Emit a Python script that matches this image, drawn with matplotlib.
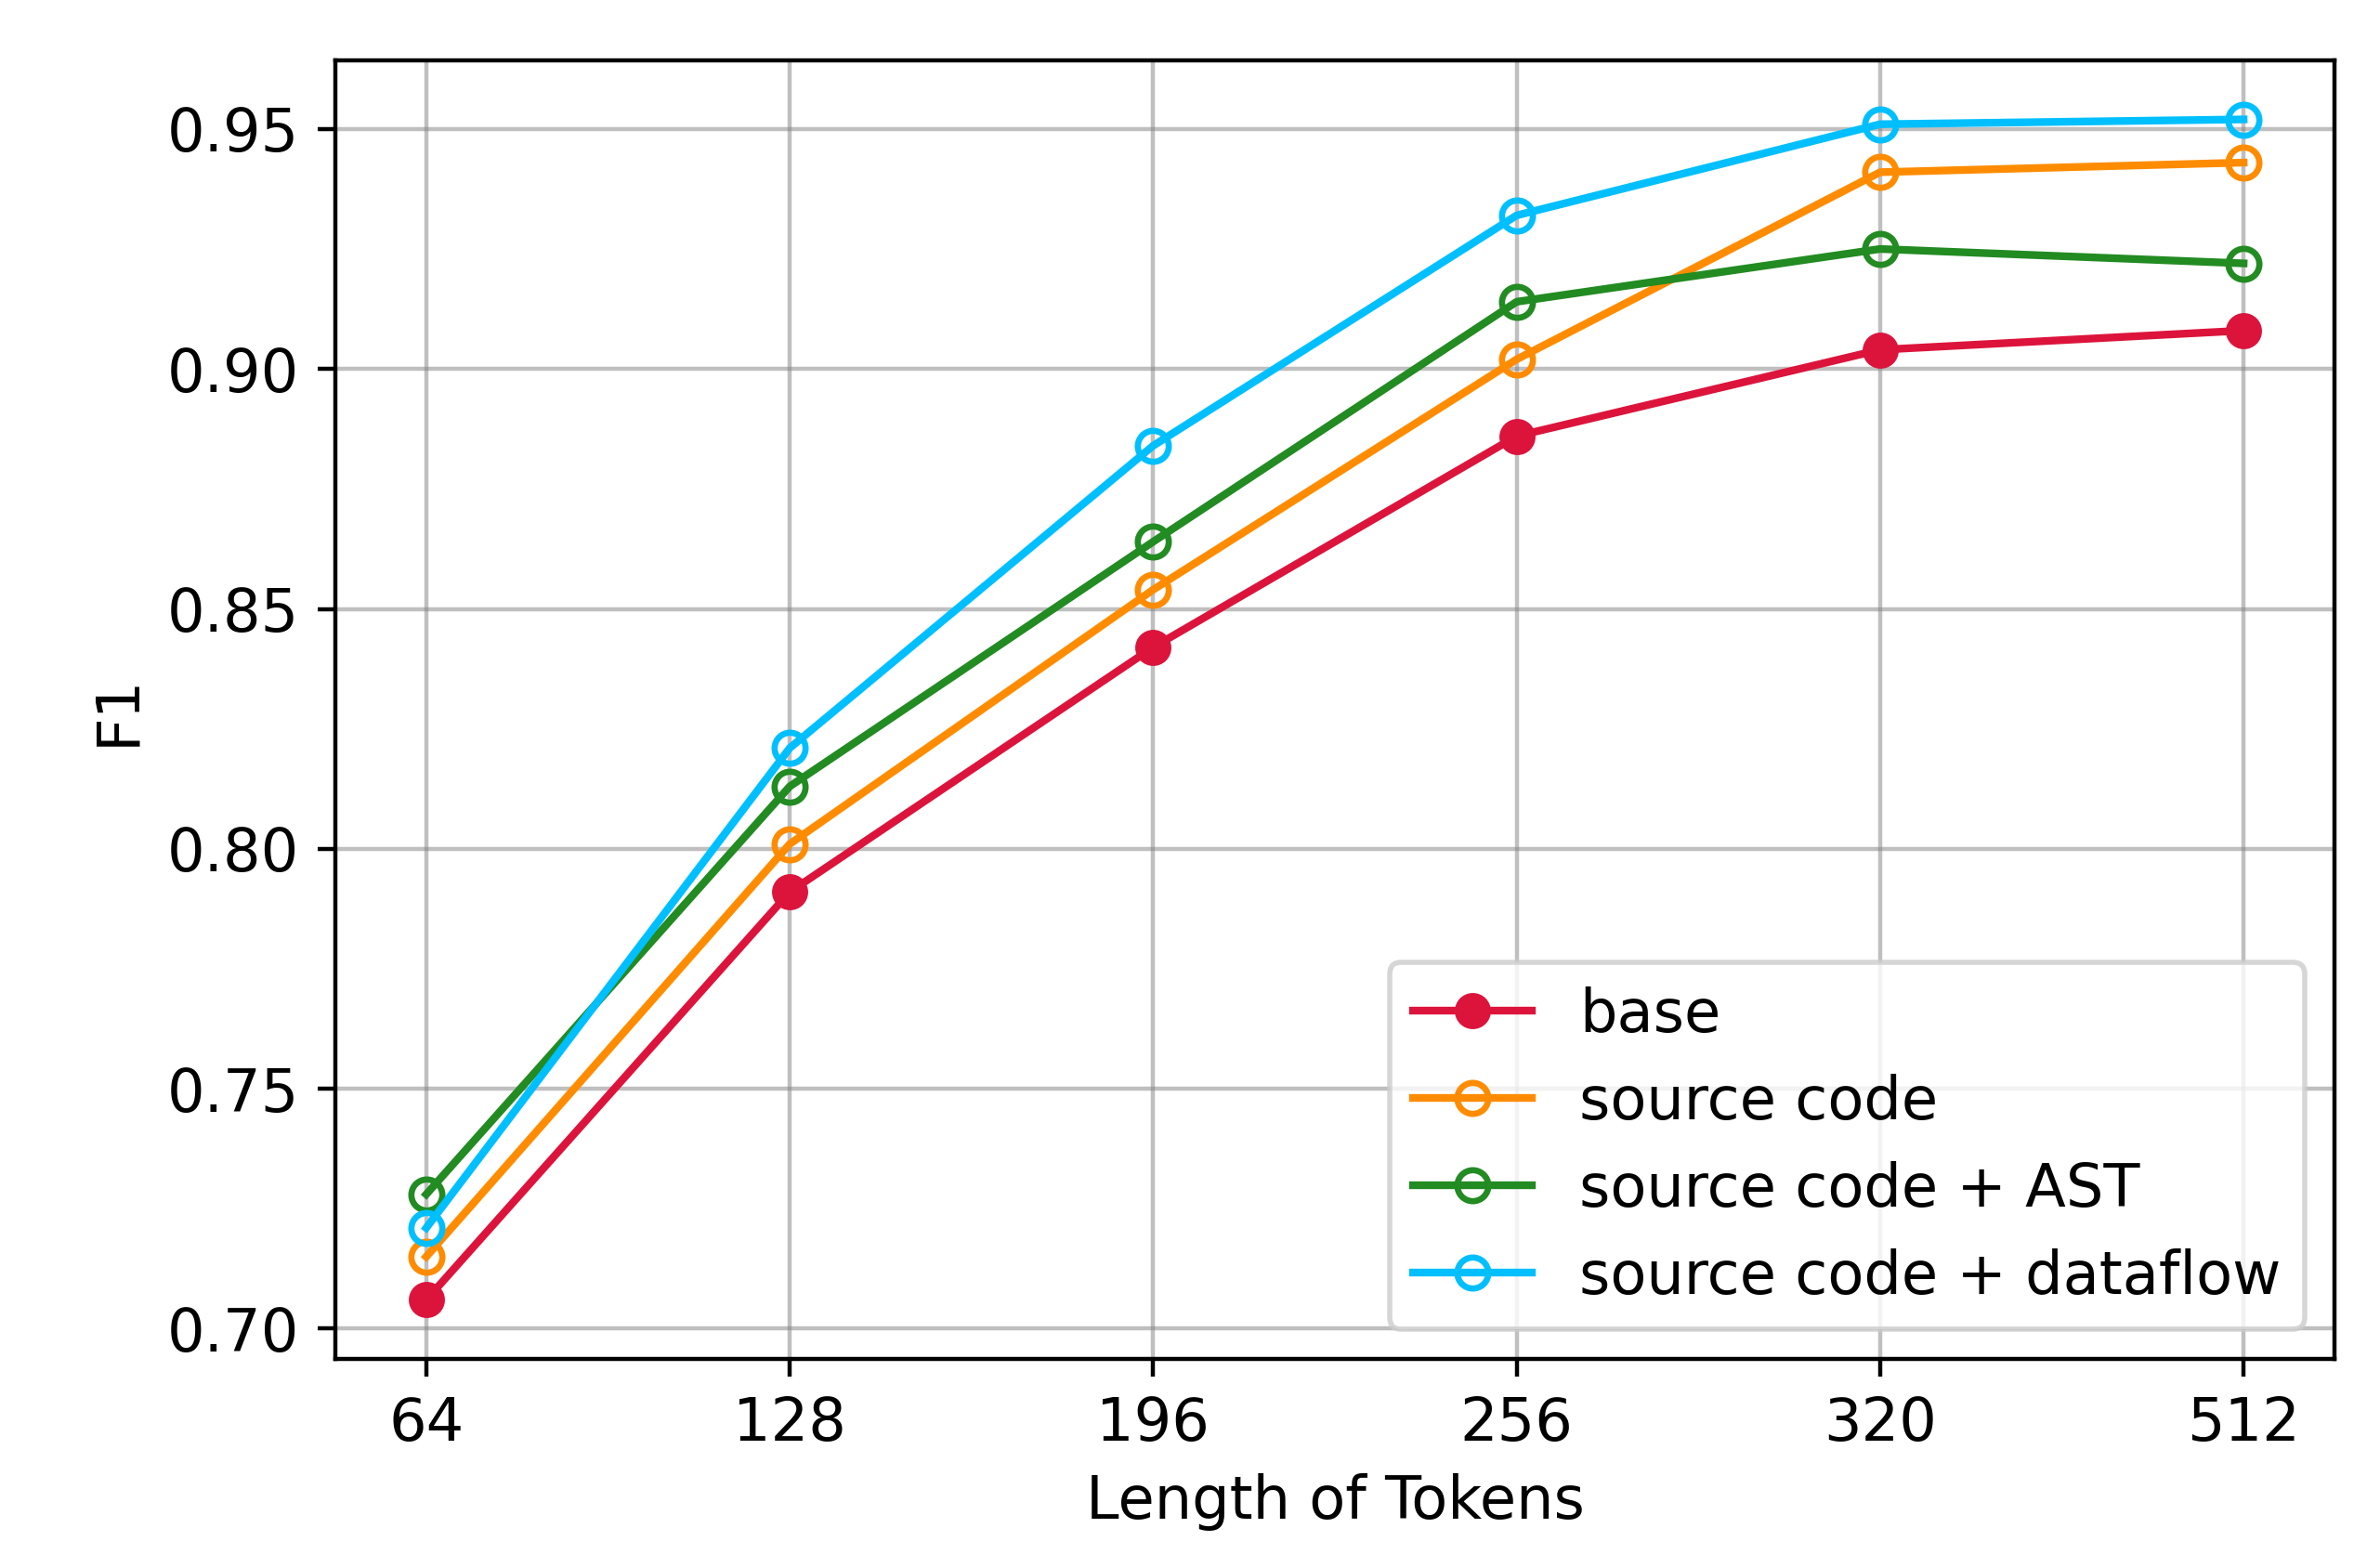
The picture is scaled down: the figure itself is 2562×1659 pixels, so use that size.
import matplotlib
matplotlib.use("Agg")
import matplotlib.pyplot as plt

tokens = ["64", "128", "196", "256", "320", "512"]
base = [0.706, 0.791, 0.842, 0.886, 0.904, 0.908]
source_code = [0.715, 0.801, 0.854, 0.902, 0.941, 0.943]
source_ast = [0.728, 0.813, 0.864, 0.914, 0.925, 0.922]
source_dataflow = [0.721, 0.821, 0.884, 0.932, 0.951, 0.952]

fig = plt.figure(figsize=(2562 / 400, 1659 / 400), dpi=400)
ax = fig.add_axes([361 / 2562, 1 - 1463 / 1659, (2513 - 361) / 2562, (1463 - 65) / 1659])

x = range(len(tokens))
ax.plot(x, base, color="crimson", marker="o", lw=1.5, ms=6, label="base")
ax.plot(x, source_code, color="darkorange", marker="o", mfc="none", lw=1.5, ms=6, mew=1.2, label="source code")
ax.plot(x, source_ast, color="forestgreen", marker="o", mfc="none", lw=1.5, ms=6, mew=1.2, label="source code + AST")
ax.plot(x, source_dataflow, color="deepskyblue", marker="o", mfc="none", lw=1.5, ms=6, mew=1.2, label="source code + dataflow")

ax.set_xticks(list(x))
ax.set_xticklabels(tokens)
ax.tick_params(labelsize=11.5)
ax.set_yticks([0.70, 0.75, 0.80, 0.85, 0.90, 0.95])
ax.set_yticklabels(["0.70", "0.75", "0.80", "0.85", "0.90", "0.95"])
ax.grid(True, color="gray", alpha=0.5, lw=0.8)
ax.set_xlabel("Length of Tokens", fontsize=11.5)
ax.set_ylabel("F1", fontsize=11.5)
ax.legend(loc="lower right", fontsize=11.5)

fig.savefig("out.png", dpi=400)
